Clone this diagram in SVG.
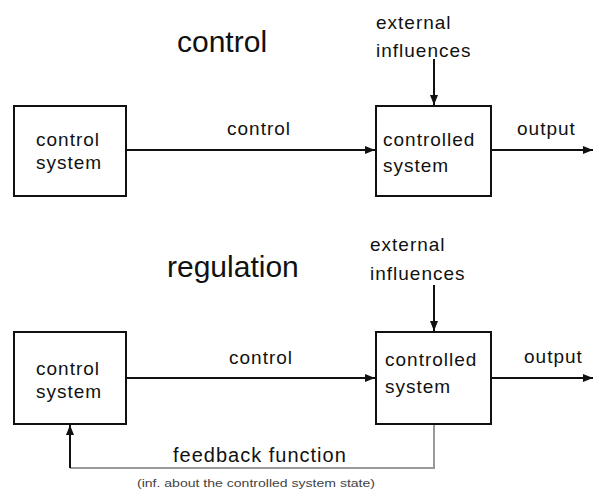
<svg xmlns="http://www.w3.org/2000/svg" width="593" height="493" viewBox="0 0 593 493">
<style>
text{font-family:"Liberation Sans",Arial,sans-serif;fill:#111;}
.t{font-size:19px;letter-spacing:1px;}
.title{font-size:30px;}
.box{fill:#fff;stroke:#111;stroke-width:2;}
.ln{stroke:#111;stroke-width:2;fill:none;}
.gr{stroke:#999;stroke-width:2;fill:none;}
</style>
<defs>
<marker id="ah" viewBox="0 0 10 8" refX="10" refY="4" markerWidth="10" markerHeight="8" markerUnits="userSpaceOnUse" orient="auto">
<path d="M0,0 L10,4 L0,8 Z" fill="#111"/>
</marker>
</defs>
<text class="title" x="177" y="52">control</text>
<text class="title" x="167" y="277">regulation</text>
<g id="connectors">
<line class="ln" x1="127" y1="150" x2="375" y2="150" marker-end="url(#ah)"/>
<line class="ln" x1="491" y1="150" x2="593" y2="150" marker-end="url(#ah)"/>
<line class="ln" x1="434" y1="59" x2="434" y2="105" marker-end="url(#ah)"/>
<line class="ln" x1="127" y1="378" x2="375" y2="378" marker-end="url(#ah)"/>
<line class="ln" x1="491" y1="378" x2="593" y2="378" marker-end="url(#ah)"/>
<line class="ln" x1="434" y1="285" x2="434" y2="331" marker-end="url(#ah)"/>
<polyline class="gr" points="434,425 434,468 70,468"/>
<line class="ln" x1="70" y1="468" x2="70" y2="425" marker-end="url(#ah)"/>
<text class="t" x="227" y="135">control</text>
<text class="t" x="517" y="135">output</text>
<text class="t" x="376" y="29">external</text>
<text class="t" x="376" y="57">influences</text>
<text class="t" x="229" y="364">control</text>
<text class="t" x="524" y="363">output</text>
<text class="t" x="370" y="251">external</text>
<text class="t" x="370" y="280">influences</text>
<text x="173" y="462" style="font-size:20px;letter-spacing:1px">feedback function</text>
<text x="137" y="487" style="font-size:11px;fill:#444" textLength="238" lengthAdjust="spacingAndGlyphs">(inf. about the controlled system state)</text>
</g>
<g id="control-system-1">
<rect class="box" x="14" y="106" width="112" height="90"/>
<text class="t" x="36" y="146">control</text>
<text class="t" x="36" y="169">system</text>
</g>
<g id="controlled-system-1">
<rect class="box" x="376" y="106" width="115" height="90"/>
<text class="t" x="383" y="146">controlled</text>
<text class="t" x="383" y="172">system</text>
</g>
<g id="control-system-2">
<rect class="box" x="14" y="332" width="112" height="92"/>
<text class="t" x="36" y="375">control</text>
<text class="t" x="36" y="398">system</text>
</g>
<g id="controlled-system-2">
<rect class="box" x="376" y="332" width="115" height="92"/>
<text class="t" x="385" y="366">controlled</text>
<text class="t" x="385" y="393">system</text>
</g>
</svg>
